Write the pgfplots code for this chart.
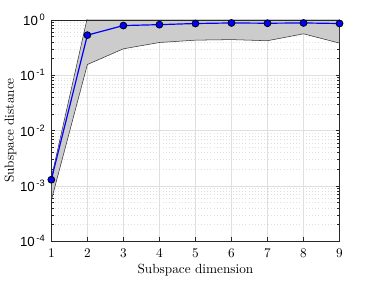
\documentclass[border=0pt]{standalone}
\usepackage{pgfplots}
\pgfplotsset{compat=1.18}
\usepackage{fontspec}
\newfontfamily\hv{Liberation Sans}
\usetikzlibrary{calc}
\definecolor{bandgray}{gray}{0.8}
\definecolor{axgray}{gray}{0.15}
\begin{document}
\begin{tikzpicture}
\begin{axis}[
  scale only axis,
  width=217.5pt, height=167pt,
  ymode=log,
  xmin=1, xmax=9, ymin=1e-4, ymax=1,
  xtick={1,...,9},
  ytick={1e-4,1e-3,1e-2,1e-1,1},
  yticklabels={{\hv 10\textsuperscript{\,-4}},{\hv 10\textsuperscript{\,-3}},{\hv 10\textsuperscript{\,-2}},{\hv 10\textsuperscript{\,-1}},{\hv 10\textsuperscript{\,0}}},
  xticklabel style={font=\hv\fontsize{10}{11}\selectfont, yshift=-2.5pt},
  yticklabel style={font=\fontsize{10}{11}\selectfont, xshift=-1pt},
  xticklabel={\hv\pgfmathprintnumber{\tick}},
  tick align=inside,
  major tick length=3pt, minor tick length=1.8pt,
  axis line style={axgray, line width=0.4pt},
  tick style={axgray, line width=0.4pt},
  grid=both,
  major grid style={gray!25, line width=0.3pt},
  minor grid style={gray!25, dotted, line width=0.3pt},
  xlabel={Subspace dimension},
  ylabel={Subspace distance},
  xlabel style={yshift=2pt},
  ylabel style={yshift=-4pt},
]
\addplot[fill=bandgray, draw=black!80, line width=0.4pt] coordinates {
  (1,1.4e-3) (2,1.1) (3,1.2) (4,1.2) (5,1.2) (6,1.2) (7,1.2) (8,1.2) (9,1.2)
  (9,0.38) (8,0.56) (7,0.42) (6,0.44) (5,0.43) (4,0.39) (3,0.30) (2,0.156) (1,5.5e-4)
} -- cycle;
\addplot[blue, line width=0.9pt, mark=*, mark size=2.6pt,
  mark options={fill=blue, draw=black, line width=0.6pt}] coordinates {
  (1,1.29e-3) (2,0.53) (3,0.79) (4,0.82) (5,0.86) (6,0.88) (7,0.87) (8,0.88) (9,0.86)
};
\draw[axgray, line width=0.4pt] (rel axis cs:0,0) rectangle (rel axis cs:1,1);
\end{axis}
\path ($(current axis.south west)+(-36.75pt,-28pt)$) rectangle ($(current axis.north east)+(26pt,15pt)$);
\end{tikzpicture}
\end{document}
